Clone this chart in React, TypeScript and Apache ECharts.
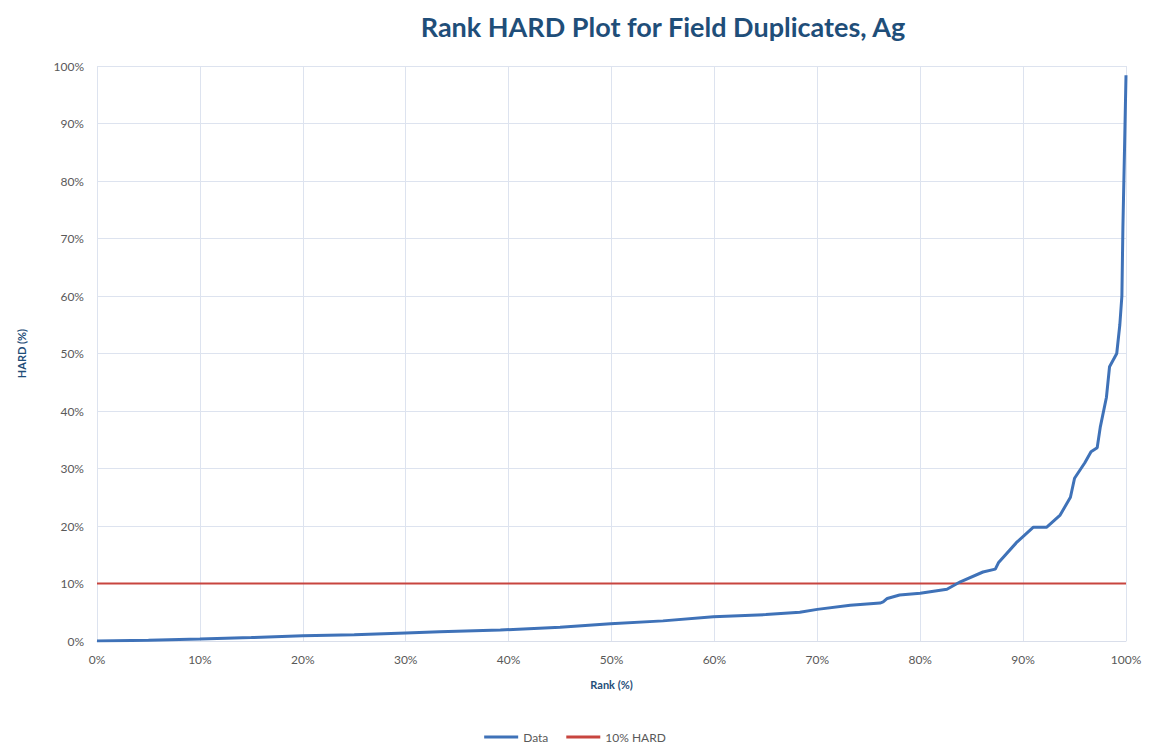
import React, { useEffect, useRef } from "react";
import * as echarts from "echarts";

const rank = [0, 5, 10, 15, 20, 25, 30, 33.3, 39.2, 45, 49.9, 55, 59.9, 65, 68.3, 70, 73.2, 76.1, 76.4, 76.8, 78, 80, 82.6, 83.9, 86.1, 87.3, 87.6, 89.4, 91, 92.3, 93.6, 94.6, 95, 96, 96.6, 97.2, 97.5, 98.1, 98.4, 99.1, 99.4, 99.6, 99.7, 99.85, 100];
const hard = [0, 0.15, 0.35, 0.6, 0.9, 1.1, 1.4, 1.6, 1.9, 2.4, 3.0, 3.5, 4.2, 4.6, 5.0, 5.5, 6.2, 6.6, 6.8, 7.4, 8.0, 8.3, 9.0, 10.3, 12.0, 12.5, 13.6, 17.2, 19.8, 19.8, 21.9, 25, 28.3, 31, 32.9, 33.6, 37.2, 42.4, 47.7, 50, 55, 60, 72, 85, 98.4];
const thresholdRank = [0, 100];
const thresholdHard = [10, 10];

const title = "Rank HARD Plot for Field Duplicates, Ag";
const xName = "Rank (%)";
const yName = "HARD (%)";
const seriesNames = ["Data", "10% HARD"];

export default function App() {
  const ref = useRef<HTMLDivElement>(null);
  useEffect(() => {
    document.body.style.margin = "0";
    const chart = echarts.init(ref.current!, null, { renderer: "svg" });
    const font = "Lato, 'Open Sans', sans-serif";
    chart.setOption({
      animation: false,
      backgroundColor: "#ffffff",
      textStyle: { fontFamily: font },
      title: {
        text: title,
        left: 658,
        textAlign: "center",
        top: 8,
        textStyle: { fontFamily: font, fontWeight: "bold", fontSize: 27, color: "#1F4E79" },
      },
      grid: { left: 97, right: 24, top: 66, bottom: 104, containLabel: false },
      legend: {
        top: 726,
        left: "center",
        icon: "rect",
        itemWidth: 34,
        itemHeight: 3,
        itemGap: 18,
        textStyle: { color: "#595959", fontSize: 12, fontFamily: font },
        data: seriesNames,
      },
      xAxis: {
        type: "value",
        min: 0,
        max: 100,
        interval: 10,
        name: xName,
        nameLocation: "middle",
        nameGap: 38,
        nameTextStyle: { color: "#1F4E79", fontWeight: "bold", fontSize: 11 },
        axisLabel: { formatter: "{value}%", color: "#595959", fontSize: 12, margin: 12 },
        axisLine: { show: true, lineStyle: { color: "#D9DEEA" } },
        axisTick: { show: false },
        splitLine: { show: true, lineStyle: { color: "#DDE3EF" } },
      },
      yAxis: {
        type: "value",
        min: 0,
        max: 100,
        interval: 10,
        name: yName,
        nameLocation: "middle",
        nameGap: 70,
        nameRotate: 90,
        nameTextStyle: { color: "#1F4E79", fontWeight: "bold", fontSize: 11 },
        axisLabel: { formatter: "{value}%", color: "#595959", fontSize: 12, margin: 13 },
        axisLine: { show: false },
        axisTick: { show: false },
        splitLine: { show: true, lineStyle: { color: "#DDE3EF" } },
      },
      series: [
        {
          name: seriesNames[0],
          type: "line",
          data: rank.map((r, i) => [r, hard[i]]),
          showSymbol: false,
          symbol: "none",
          lineStyle: { color: "#3F72B8", width: 3 },
          itemStyle: { color: "#3F72B8" },
          z: 3,
        },
        {
          name: seriesNames[1],
          type: "line",
          data: thresholdRank.map((r, i) => [r, thresholdHard[i]]),
          showSymbol: false,
          symbol: "none",
          lineStyle: { color: "#C8453F", width: 2 },
          itemStyle: { color: "#C8453F" },
          z: 2,
        },
      ],
    });
    return () => chart.dispose();
  }, []);
  return <div ref={ref} style={{ width: 1150, height: 745 }} />;
}
